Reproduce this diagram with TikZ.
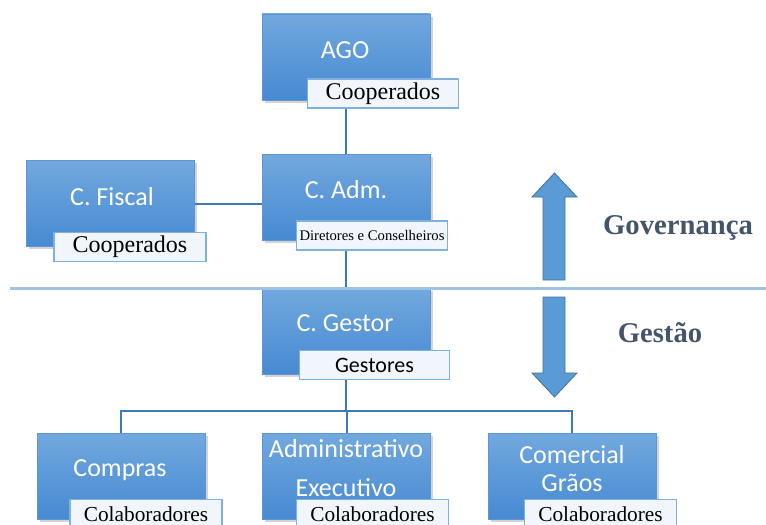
\documentclass[tikz,border=0pt]{standalone}
\usepackage{fontspec}
\setmainfont{Liberation Serif}
\newfontfamily\boxfont{Carlito}
\usetikzlibrary{
  calc,
  shadows
}
\usepackage{xcolor}
\definecolor{boxTop}{RGB}{114,168,222}
\definecolor{boxBottom}{RGB}{70,138,210}
\definecolor{boxLine}{RGB}{92,150,212}
\definecolor{tagLine}{RGB}{126,176,224}
\definecolor{tagFill}{RGB}{240,246,252}
\definecolor{linkBlue}{RGB}{62,122,186}
\definecolor{splitBlue}{RGB}{157,195,230}
\definecolor{arrowFill}{RGB}{91,155,213}
\definecolor{arrowLine}{RGB}{65,113,156}
\definecolor{slate}{RGB}{68,84,106}
\tikzset{
  unit/.style={
    draw=boxLine,
    top color=boxTop,
    bottom color=boxBottom,
    minimum width=126pt,
    minimum height=64.5pt,
    inner sep=0pt,
    drop shadow={opacity=0.35, shadow xshift=2pt, shadow yshift=-2pt}
  },
  title/.style={
    text=white,
    font=\boxfont\fontsize{19.5}{29}\selectfont,
    align=center,
    inner sep=0pt
  },
  tag/.style={
    draw=tagLine,
    fill=tagFill,
    line width=0.8pt,
    minimum width=113pt,
    minimum height=21.75pt,
    inner sep=0pt,
    font=\fontsize{18}{20}\selectfont
  }
}
\begin{document}
\begin{tikzpicture}[
      x=0.75pt, y=-0.75pt,
      link/.style={draw=linkBlue, line width=1.5pt},
      bigarrow/.style={fill=arrowFill, draw=arrowLine, line width=0.6pt},
      side/.style={text=slate, font=\bfseries\fontsize{21.5}{24}\selectfont}
      ]
      \useasboundingbox (0,0) rectangle (766,524);

      % caixas
      \node[unit] (ago) at (346,57) {};
      \node[unit] (fiscal) at (110.5,203.5) {};
      \node[unit] (adm) at (346,197) {};
      \node[unit] (gestor) at (346,331) {};
      \node[unit] (compras) at (121,476) {};
      \node[unit] (admin) at (346.5,476) {};
      \node[unit] (comercial) at (572,476) {};

      \node[title] (agoT) at (345,50) {AGO};
      \node[title] (fiscalT) at (112,197) {C. Fiscal};
      \node[title] (admT) at (346,190) {C. Adm.};
      \node[title] (gestorT) at (345,323) {C. Gestor};
      \node[title] (comprasT) at (120,470) {Compras};
      \node[title] (adminT) at (346,468) {Administrativo\\Executivo};
      \node[title, font=\boxfont\fontsize{19.5}{21}\selectfont] (comercialT)
        at (572,469) {Comercial\\Grãos};

      % ligacoes
      \coordinate (bus) at (346,411);
      \draw[link] (ago) -- (adm);
      \draw[link] (fiscal.east |- 0,204) -- (adm.west |- 0,204);
      \draw[link] (adm) -- (gestor);
      \draw[link] (gestor) -- (bus);
      \foreach \n in {compras,admin,comercial}{
        \draw[link] (bus) -| (\n);
      }

      % divisao
      \coordinate (splitL) at (10,288);
      \coordinate (splitR) at (766,288);
      \draw[draw=splitBlue, line width=2.25pt] (splitL) -- (splitR);

      % etiquetas
      \node[tag] (agoL) at (383,93.5) {Cooperados};
      \node[tag, minimum width=114pt] (fiscalL) at (130,247) {Cooperados};
      \node[tag, font=\fontsize{11}{12}\selectfont] (admL) at (372,235.5)
        {Diretores e Conselheiros};
      \node[tag, font=\boxfont\fontsize{16.5}{18}\selectfont] (gestorL)
        at (374.5,365) {Gestores};
      \foreach \n/\x in {compras/146,admin/372.5,comercial/600.5}{
        \node[tag, minimum width=114pt, font=\fontsize{16}{18}\selectfont]
          (\n L) at (\x,514) {Colaboradores};
      }

      % setas
      \filldraw[bigarrow] (554.5,173) -- (577,197) -- (565,197) -- (565,280)
        -- (543,280) -- (543,197) -- (532,197) -- cycle;
      \filldraw[bigarrow] (554.5,397) -- (577,373) -- (565,373) -- (565,297)
        -- (543,297) -- (543,373) -- (532,373) -- cycle;

      \node[side] (gov) at (678,228) {Governança};
      \node[side] (ges) at (660,333) {Gestão};
    \end{tikzpicture}
\end{document}
